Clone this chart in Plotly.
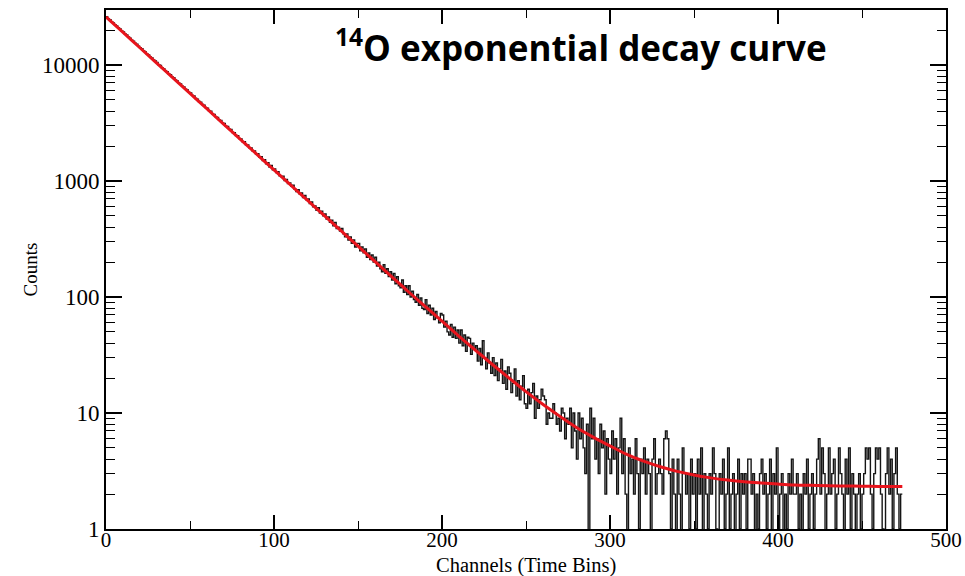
import numpy as np
import plotly.graph_objects as go

# Counts per channel (time bin), channels 0..473
counts = [
    26120, 25090, 24530, 23610, 23080, 22250, 21760, 20920, 20450, 19700,
    19260, 18530, 18120, 17440, 17050, 16390, 16060, 15450, 15110, 14520,
    14080, 13810, 13260, 12990, 12470, 12230, 11720, 11510, 11040, 10830,
    10510, 10060, 9890, 9470, 9310, 8910, 8760, 8390, 8240, 7890,
    7760, 7420, 7300, 6980, 6870, 6570, 6470, 6180, 6090, 5810,
    5730, 5470, 5400, 5150, 5080, 4840, 4780, 4560, 4500, 4290,
    4240, 4030, 3990, 3790, 3750, 3570, 3530, 3360, 3320, 3160,
    3130, 2970, 2950, 2790, 2780, 2620, 2610, 2470, 2460, 2320,
    2310, 2180, 2180, 2050, 2050, 1930, 1930, 1810, 1820, 1700,
    1720, 1600, 1620, 1500, 1530, 1410, 1440, 1320, 1360, 1250,
    1270, 1180, 1200, 1110, 1090, 1100, 1010, 1030, 950, 960,
    900, 920, 850, 810, 840, 770, 790, 720, 750, 690,
    700, 640, 660, 600, 610, 560, 590, 530, 550, 500,
    520, 470, 490, 440, 460, 410, 440, 390, 400, 370,
    390, 350, 330, 350, 310, 330, 290, 310, 270, 290,
    290, 250, 270, 240, 260, 220, 240, 210, 230, 200,
    220, 185, 200, 175, 165, 190, 160, 175, 150, 165,
    140, 160, 130, 150, 125, 120, 140, 110, 125, 105,
    125, 100, 112, 95, 90, 105, 85, 98, 80, 78,
    95, 72, 85, 70, 80, 64, 75, 66, 60, 72,
    70, 55, 62, 50, 47, 58, 45, 55, 44, 52,
    40, 52, 38, 47, 34, 45, 44, 32, 40, 36,
    38, 28, 36, 26, 42, 30, 24, 33, 27, 22,
    30, 21, 27, 19, 24, 29, 18, 23, 16, 25,
    22, 15, 18, 24, 14, 19, 13, 17, 21, 12,
    11, 16, 12, 15, 18, 9, 14, 11, 13, 16,
    14, 13, 8, 10, 9, 9, 12, 10, 8, 9,
    7, 11, 10, 6, 9, 8, 11, 5, 10, 7,
    4, 10, 6, 9, 5, 3, 8, 0, 11, 6,
    9, 4, 6, 3, 8, 5, 7, 2, 6, 4,
    3, 7, 4, 6, 2, 5, 9, 3, 6, 2,
    0, 5, 3, 4, 2, 6, 3, 1, 4, 3,
    5, 2, 4, 3, 0, 4, 6, 2, 3, 4,
    3, 2, 6, 7, 6, 3, 1, 4, 2, 0,
    4, 2, 0, 5, 3, 2, 3, 1, 4, 2,
    3, 1, 4, 2, 5, 0, 3, 2, 1, 3,
    2, 5, 3, 1, 0, 3, 2, 4, 1, 2,
    5, 1, 2, 3, 0, 2, 4, 1, 3, 2,
    3, 1, 4, 4, 2, 3, 0, 2, 1, 3,
    4, 2, 3, 1, 2, 4, 0, 3, 2, 5,
    1, 2, 3, 0, 2, 1, 3, 2, 4, 2,
    2, 3, 1, 2, 0, 3, 2, 4, 1, 2,
    3, 1, 2, 4, 6, 2, 5, 3, 0, 2,
    5, 2, 3, 4, 1, 2, 5, 3, 2, 0,
    4, 2, 5, 1, 3, 2, 0, 2, 3, 1,
    2, 3, 5, 4, 5, 2, 1, 3, 5, 4,
    5, 2, 1, 0, 3, 5, 2, 4, 1, 3,
    5, 2, 1, 2,
]

# Exponential fit
fit_x = [0, 10, 20, 30, 40, 50, 60, 70, 80, 90, 100, 110, 120, 130, 140, 150,
         160, 170, 180, 190, 200, 210, 220, 230, 240, 250, 260, 270, 280, 290,
         300, 310, 320, 330, 340, 350, 360, 370, 380, 390, 400, 410, 420, 430,
         440, 450, 460, 470, 474]
fit_y = [26002, 19187, 14159, 10448, 7710, 5690, 4199, 3099, 2287, 1688, 1246,
         920, 680, 502, 371, 274, 203, 150, 111, 83, 62, 46, 34.7, 26.2, 20.0,
         15.3, 11.9, 9.4, 7.5, 6.2, 5.2, 4.4, 3.85, 3.44, 3.14, 2.92, 2.76,
         2.64, 2.55, 2.49, 2.44, 2.40, 2.38, 2.36, 2.35, 2.34, 2.33, 2.32, 2.32]

y_tickvals = [1, 10, 100, 1000, 10000]
y_ticktext = ["1", "10", "100", "1000", "10000"]
x_tickvals = [0, 100, 200, 300, 400, 500]
x_ticktext = ["0", "100", "200", "300", "400", "500"]

# step histogram: zero counts are drawn below the axis floor
c = np.array(counts, dtype=float)
c_disp = np.where(c <= 0, 0.2, c)
edges = np.arange(len(c) + 1)
y_step = np.append(c_disp, c_disp[-1])

fig = go.Figure()
fig.add_trace(go.Scatter(x=edges, y=y_step, mode="lines", line_shape="hv",
                         line=dict(color="#151515", width=1.4), showlegend=False))
fig.add_trace(go.Scatter(x=fit_x, y=fit_y, mode="lines", line_shape="spline",
                         line=dict(color="#e8141c", width=3), showlegend=False))

minor_y = [m * 10 ** d for d in range(0, 5) for m in range(2, 10)]

serif = "Liberation Serif, Times New Roman, serif"
fig.update_layout(
    width=965, height=576,
    margin=dict(l=106, r=19, t=10, b=47),
    paper_bgcolor="white", plot_bgcolor="white",
    font=dict(family=serif, color="black"),
)
fig.update_xaxes(
    range=[0, 500], tickvals=x_tickvals, ticktext=x_ticktext, automargin=False,
    ticks="inside", ticklen=14, tickwidth=1.5, tickcolor="black",
    showline=True, linecolor="black", linewidth=2, mirror="ticks",
    showgrid=False, zeroline=False, ticklabelstandoff=-9,
    tickfont=dict(size=21, family=serif),
    minor=dict(tickvals=[50, 150, 250, 350, 450], ticks="inside", ticklen=8,
               tickwidth=1.2, tickcolor="black", showgrid=False),
)
fig.update_yaxes(
    type="log", range=[0, np.log10(29800)], tickvals=y_tickvals, ticktext=y_ticktext,
    automargin=False,
    ticks="inside", ticklen=16, tickwidth=1.5, tickcolor="black",
    showline=True, linecolor="black", linewidth=2, mirror="ticks",
    showgrid=False, zeroline=False,
    tickfont=dict(size=23, family=serif),
    minor=dict(tickvals=minor_y, ticks="inside", ticklen=9, tickwidth=1.2,
               tickcolor="black", showgrid=False),
)
fig.add_annotation(
    text="Channels (Time Bins)", xref="paper", yref="paper", x=0.5, y=0.0,
    yshift=-36, xanchor="center", yanchor="middle", showarrow=False, borderpad=0,
    font=dict(size=20.5, family=serif, color="black"),
)
fig.add_annotation(
    text="Counts", xref="paper", yref="paper", x=0.0, y=0.5, xshift=-76,
    xanchor="center", yanchor="middle", textangle=-90, showarrow=False,
    font=dict(size=19, family=serif, color="black"),
)
fig.add_annotation(
    text="<b><sup>14</sup>O exponential decay curve</b>",
    xref="paper", yref="paper", x=0.565, y=0.932, xanchor="center", yanchor="middle",
    showarrow=False, font=dict(size=35, family="Open Sans, sans-serif", color="black"),
)
fig.write_html("out.html")
